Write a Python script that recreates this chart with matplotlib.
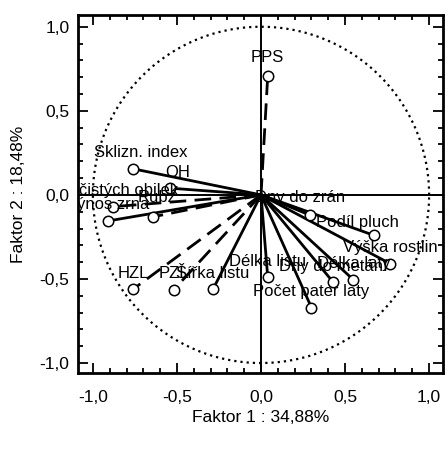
import numpy as np
import matplotlib
matplotlib.use("Agg")
import matplotlib.pyplot as plt
from matplotlib.ticker import MultipleLocator, FuncFormatter

# data: factor loadings
names = ["PPS", "Sklizn. index", "OH", "Podíl čistých obilek", "Rubz", "Výnos zrna",
         "HZL", "PZL", "Šířka listu", "Délka listu", "Počet pater laty",
         "Dny do metání", "Délka laty", "Výška rostlin", "Podíl pluch", "Dny do zrán"]
f1 = [0.04, -0.76, -0.54, -0.88, -0.64, -0.91,
      -0.76, -0.52, -0.285, 0.04, 0.30,
      0.43, 0.55, 0.77, 0.67, 0.29]
f2 = [0.71, 0.155, 0.04, -0.07, -0.13, -0.155,
      -0.56, -0.565, -0.56, -0.49, -0.67,
      -0.52, -0.505, -0.41, -0.24, -0.12]
dashed = ["PPS", "Podíl čistých obilek", "Rubz", "HZL", "PZL"]

# label shifts in pixels (dx, dy) where they differ from default
label_shift = {"Sklizn. index": (7, 16), "OH": (7, 16), "Rubz": (4, 19),
               "Dny do zrán": (-10, 18), "Podíl pluch": (-16, 13),
               "PPS": (0, 18), "Podíl čistých obilek": (-6, 16)}

fig = plt.figure(figsize=(4.48, 4.49), dpi=100)
ax = fig.add_axes([0.174, 0.169, 0.815, 0.798])

# jednotkova kruznice
t = np.linspace(0, 2 * np.pi, 400)
ax.plot(np.cos(t), np.sin(t), color="black", lw=1.6, ls=(0, (1, 1.8)))

# osy nula
ax.axhline(0, color="black", lw=1.4)
ax.axvline(0, color="black", lw=1.4)

for n, x, y in zip(names, f1, f2):
    ls = (0, (6, 3)) if n in dashed else "-"
    ax.plot([0, x], [0, y], color="black", lw=2.0, ls=ls, zorder=3)
    ax.plot(x, y, "o", ms=7.5, mfc="white", mec="black", mew=1.1, zorder=4)
    dx, dy = label_shift.get(n, (0, 16))
    ax.annotate(n, (x, y), xytext=(dx * 0.72, dy * 0.72), textcoords="offset points",
                ha="center", va="center", fontsize=12, family="Liberation Sans",
                annotation_clip=False, clip_on=True, zorder=5)

ax.set_xlim(-1.089, 1.083)
ax.set_ylim(-1.06, 1.071)

ax.xaxis.set_major_locator(MultipleLocator(0.5))
ax.yaxis.set_major_locator(MultipleLocator(0.5))
ax.xaxis.set_minor_locator(MultipleLocator(0.1))
ax.yaxis.set_minor_locator(MultipleLocator(0.1))
fmt = FuncFormatter(lambda v, p: ("%.1f" % v).replace(".", ",").replace("-0,0", "0,0"))
ax.xaxis.set_major_formatter(fmt)
ax.yaxis.set_major_formatter(fmt)
ax.tick_params(which="both", direction="in", top=True, right=True, width=1.3)
ax.tick_params(which="major", length=7, labelsize=12.5)
ax.tick_params(axis="x", which="major", pad=12)
ax.tick_params(axis="y", which="major", pad=6)
ax.tick_params(which="minor", length=3.5)
for lab in ax.get_xticklabels() + ax.get_yticklabels():
    lab.set_family("Liberation Sans")
for s in ax.spines.values():
    s.set_linewidth(2)

ax.set_xlabel("Faktor 1 : 34,88%", fontsize=12.5, family="Liberation Sans", labelpad=4)
ax.set_ylabel("Faktor 2 : 18,48%", fontsize=12.5, family="Liberation Sans", labelpad=10)

fig.savefig("out.png", dpi=100)
